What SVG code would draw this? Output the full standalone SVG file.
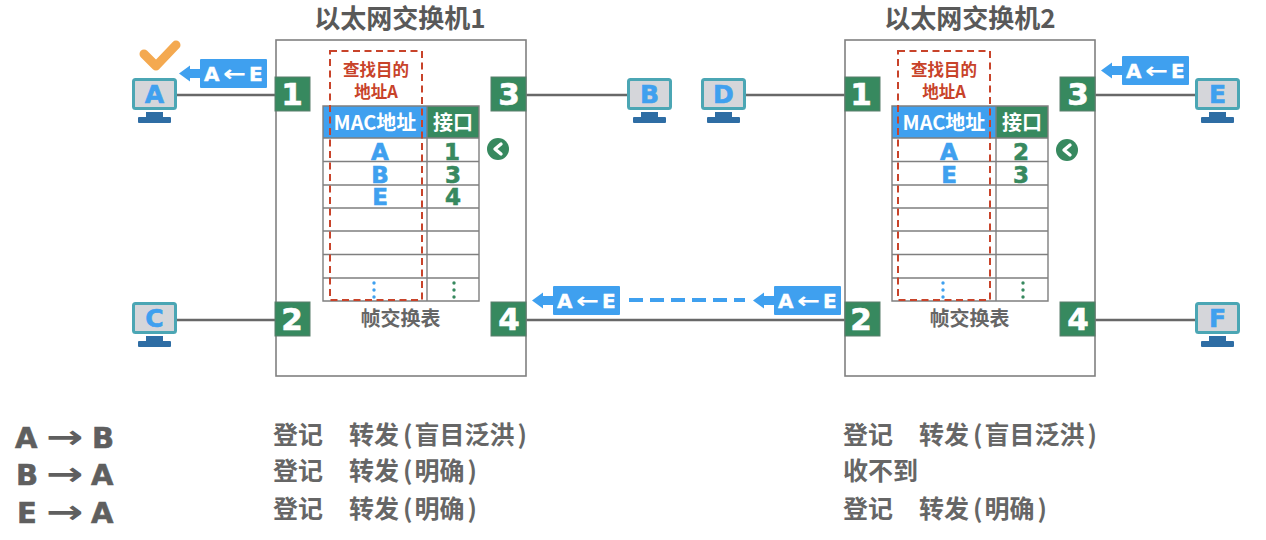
<svg xmlns="http://www.w3.org/2000/svg" width="1266" height="540" viewBox="0 0 1266 540">
<style>
text{font-family:"Noto Sans CJK SC","DejaVu Sans",sans-serif}
.lat{font-family:"DejaVu Sans","Noto Sans CJK SC",sans-serif;font-weight:700}
.title{font-size:26px;font-weight:700;fill:#595959;text-anchor:middle}
.sw{fill:#fff;stroke:#808080;stroke-width:1.6}
.port{fill:#37895f;stroke:#5b7f6c;stroke-width:1}
.pn{font-size:31px;fill:#fff;text-anchor:middle;stroke:#fff;stroke-width:.6}
.wire{stroke:#686868;stroke-width:2.4;fill:none}
.grid{stroke:#7f7f7f;stroke-width:1.4;fill:none}
.hb{fill:#3fa0ef}.hg{fill:#37895f}
.ht{font-size:20px;font-weight:700;fill:#fff;text-anchor:middle}
.mac{font-size:23px;fill:#3fa0ef;stroke:#3fa0ef;stroke-width:.6;text-anchor:middle}
.pv{font-size:23px;fill:#37895f;stroke:#37895f;stroke-width:.6;text-anchor:middle}
.red{fill:none;stroke:#c8432a;stroke-width:2;stroke-dasharray:7 4.5}
.rt{font-size:16.500px;font-weight:700;fill:#c8432a;text-anchor:middle}
.cap{font-size:20px;font-weight:700;fill:#666;text-anchor:middle}
.scr{fill:#d5d6da;stroke:#4ba6b4;stroke-width:3}
.st{fill:#2e6da4}
.hl{font-size:25px;fill:#3fa0ef;stroke:#3fa0ef;stroke-width:.6;text-anchor:middle}
.tag{fill:#3fa0ef}
.tt{font-size:20px;fill:#fff;stroke:#fff;stroke-width:.4}
.ta{font-size:22px;fill:#fff}
.flow{font-size:29px;fill:#5f5f5f;stroke:#5f5f5f;stroke-width:.6}
.fa{font-size:33px;fill:#5f5f5f}
.act{font-size:25px;font-weight:700;fill:#666}
.db{fill:#3fa0ef}.dg{fill:#37895f}
.ci{fill:#37895f}
.ch{fill:none;stroke:#fff;stroke-width:3.4;stroke-linecap:round;stroke-linejoin:round}
</style>
<defs>
<g id="mon"><rect class="scr" x="1.5" y="1.5" width="42" height="29" rx="2"/><rect class="st" x="14" y="34" width="17" height="5"/><rect class="st" x="6" y="39" width="33" height="6" rx="1"/></g>
<g id="tagshape"><rect class="tag" x="21" y="0" width="67" height="29" rx="1"/><path class="tag" d="M0 14.500L11 6.500V10H22V19H11V22.500Z"/></g>
</defs>

<g id="connectors">
<path class="wire" d="M177 95H276M177 320H276M526 95H627M746 95H845M526 320H845M1095 95H1195M1095 320H1195"/>
<path d="M629 300H745" fill="none" stroke="#3fa0ef" stroke-width="4" stroke-dasharray="14 7"/>
</g>

<g id="switch1">
<text class="title" x="400" y="28">以太网交换机1</text>
<rect class="sw" x="276" y="40" width="250" height="336"/>
</g>
<g id="table1">
<rect class="hb" x="323" y="106" width="104" height="32"/><rect class="hg" x="427" y="106" width="52" height="32"/>
<path class="grid" d="M323 106H479V301H323ZM427 106V301M323 138H479M323 161.500H479M323 185H479M323 208H479M323 231H479M323 254.500H479M323 278H479"/>
<text class="ht" x="375" y="130">MAC地址</text><text class="ht" x="453" y="130">接口</text>
<text class="lat mac" x="380" y="160">A</text><text class="lat pv" x="452" y="160">1</text>
<text class="lat mac" x="380" y="182.500">B</text><text class="lat pv" x="453" y="182.500">3</text>
<text class="lat mac" x="380" y="205">E</text><text class="lat pv" x="453" y="205">4</text>
<circle class="db" cx="374" cy="283" r="1.700"/><circle class="db" cx="374" cy="290" r="1.700"/><circle class="db" cx="374" cy="297" r="1.700"/>
<circle class="dg" cx="454" cy="283" r="1.700"/><circle class="dg" cx="454" cy="290" r="1.700"/><circle class="dg" cx="454" cy="297" r="1.700"/>
<rect class="red" x="330" y="51" width="92" height="249"/>
<text class="rt" x="376" y="76">查找目的</text><text class="rt" x="376" y="98">地址A</text>
<text class="cap" x="400.500" y="326">帧交换表</text>
<circle class="ci" cx="498" cy="149" r="11"/><path class="ch" d="M501 144L495 149L501 154"/>
</g>
<g id="s1p1"><rect class="port" x="275" y="77" width="35" height="34"/><text class="lat pn" x="292" y="105">1</text></g>
<g id="s1p3"><rect class="port" x="491" y="77" width="35" height="34"/><text class="lat pn" x="509" y="105">3</text></g>
<g id="s1p2"><rect class="port" x="275" y="302" width="35" height="34"/><text class="lat pn" x="292" y="330">2</text></g>
<g id="s1p4"><rect class="port" x="491" y="302" width="35" height="34"/><text class="lat pn" x="509" y="330">4</text></g>

<g id="switch2">
<text class="title" x="970" y="28">以太网交换机2</text>
<rect class="sw" x="845" y="40" width="250" height="336"/>
</g>
<g id="table2">
<rect class="hb" x="892" y="106" width="104" height="32"/><rect class="hg" x="996" y="106" width="52" height="32"/>
<path class="grid" d="M892 106H1048V301H892ZM996 106V301M892 138H1048M892 161.500H1048M892 185H1048M892 208H1048M892 231H1048M892 254.500H1048M892 278H1048"/>
<text class="ht" x="944" y="130">MAC地址</text><text class="ht" x="1022" y="130">接口</text>
<text class="lat mac" x="949" y="160">A</text><text class="lat pv" x="1021" y="160">2</text>
<text class="lat mac" x="949" y="182.500">E</text><text class="lat pv" x="1021" y="182.500">3</text>
<circle class="db" cx="943" cy="283" r="1.700"/><circle class="db" cx="943" cy="290" r="1.700"/><circle class="db" cx="943" cy="297" r="1.700"/>
<circle class="dg" cx="1023" cy="283" r="1.700"/><circle class="dg" cx="1023" cy="290" r="1.700"/><circle class="dg" cx="1023" cy="297" r="1.700"/>
<rect class="red" x="898" y="51" width="92" height="249"/>
<text class="rt" x="944" y="76">查找目的</text><text class="rt" x="944" y="98">地址A</text>
<text class="cap" x="969.500" y="326">帧交换表</text>
<circle class="ci" cx="1067" cy="150" r="11"/><path class="ch" d="M1070 145L1064 150L1070 155"/>
</g>
<g id="s2p1"><rect class="port" x="845" y="77" width="35" height="34"/><text class="lat pn" x="861" y="105">1</text></g>
<g id="s2p3"><rect class="port" x="1060" y="77" width="35" height="34"/><text class="lat pn" x="1078" y="105">3</text></g>
<g id="s2p2"><rect class="port" x="845" y="302" width="35" height="34"/><text class="lat pn" x="861" y="330">2</text></g>
<g id="s2p4"><rect class="port" x="1060" y="302" width="35" height="34"/><text class="lat pn" x="1078" y="330">4</text></g>

<g id="hostA"><use href="#mon" x="132" y="78"/><text class="lat hl" x="154.500" y="103">A</text></g>
<g id="hostB"><use href="#mon" x="627" y="78"/><text class="lat hl" x="649.500" y="103">B</text></g>
<g id="hostC"><use href="#mon" x="132" y="302"/><text class="lat hl" x="154.500" y="327">C</text></g>
<g id="hostD"><use href="#mon" x="701" y="78"/><text class="lat hl" x="723.500" y="103">D</text></g>
<g id="hostE"><use href="#mon" x="1195" y="78"/><text class="lat hl" x="1217.500" y="103">E</text></g>
<g id="hostF"><use href="#mon" x="1195" y="302"/><text class="lat hl" x="1217.500" y="327">F</text></g>

<path id="check" d="M144 54L156 66L176 45" fill="none" stroke="#f4a950" stroke-width="9" stroke-linecap="round" stroke-linejoin="round"/>

<g id="tag1"><use href="#tagshape" x="179" y="59"/><text class="lat tt" x="204" y="81">A</text><text class="lat ta" transform="translate(223 80.500) scale(1.25 1)">←</text><text class="lat tt" x="249" y="81">E</text></g>
<g id="tag2"><use href="#tagshape" x="1101" y="56"/><text class="lat tt" x="1126" y="78">A</text><text class="lat ta" transform="translate(1145 77.500) scale(1.25 1)">←</text><text class="lat tt" x="1171" y="78">E</text></g>
<g id="tag3"><use href="#tagshape" x="532" y="286"/><text class="lat tt" x="557" y="308">A</text><text class="lat ta" transform="translate(576 307.500) scale(1.25 1)">←</text><text class="lat tt" x="602" y="308">E</text></g>
<g id="tag4"><use href="#tagshape" x="753" y="286"/><text class="lat tt" x="778" y="308">A</text><text class="lat ta" transform="translate(797 307.500) scale(1.25 1)">←</text><text class="lat tt" x="823" y="308">E</text></g>

<g id="log">
<text class="lat flow" x="15" y="448">A</text><text class="lat fa" transform="translate(46 448) scale(1.35 1)">→</text><text class="lat flow" x="92" y="448">B</text>
<text class="lat flow" x="16" y="485">B</text><text class="lat fa" transform="translate(46 485) scale(1.35 1)">→</text><text class="lat flow" x="91" y="485">A</text>
<text class="lat flow" x="17" y="523">E</text><text class="lat fa" transform="translate(46 523) scale(1.35 1)">→</text><text class="lat flow" x="91" y="523">A</text>
<text class="act" y="444"><tspan x="273">登记</tspan><tspan x="349">转发</tspan><tspan dx="4">(</tspan><tspan dx="2">盲目泛洪</tspan><tspan dx="3">)</tspan></text>
<text class="act" y="480"><tspan x="273">登记</tspan><tspan x="349">转发</tspan><tspan dx="4">(</tspan><tspan dx="2">明确</tspan><tspan dx="3">)</tspan></text>
<text class="act" y="518"><tspan x="273">登记</tspan><tspan x="349">转发</tspan><tspan dx="4">(</tspan><tspan dx="2">明确</tspan><tspan dx="3">)</tspan></text>
<text class="act" y="444"><tspan x="843">登记</tspan><tspan x="919">转发</tspan><tspan dx="4">(</tspan><tspan dx="2">盲目泛洪</tspan><tspan dx="3">)</tspan></text>
<text class="act" x="843" y="480">收不到</text>
<text class="act" y="518"><tspan x="843">登记</tspan><tspan x="919">转发</tspan><tspan dx="4">(</tspan><tspan dx="2">明确</tspan><tspan dx="3">)</tspan></text>
</g>
</svg>
